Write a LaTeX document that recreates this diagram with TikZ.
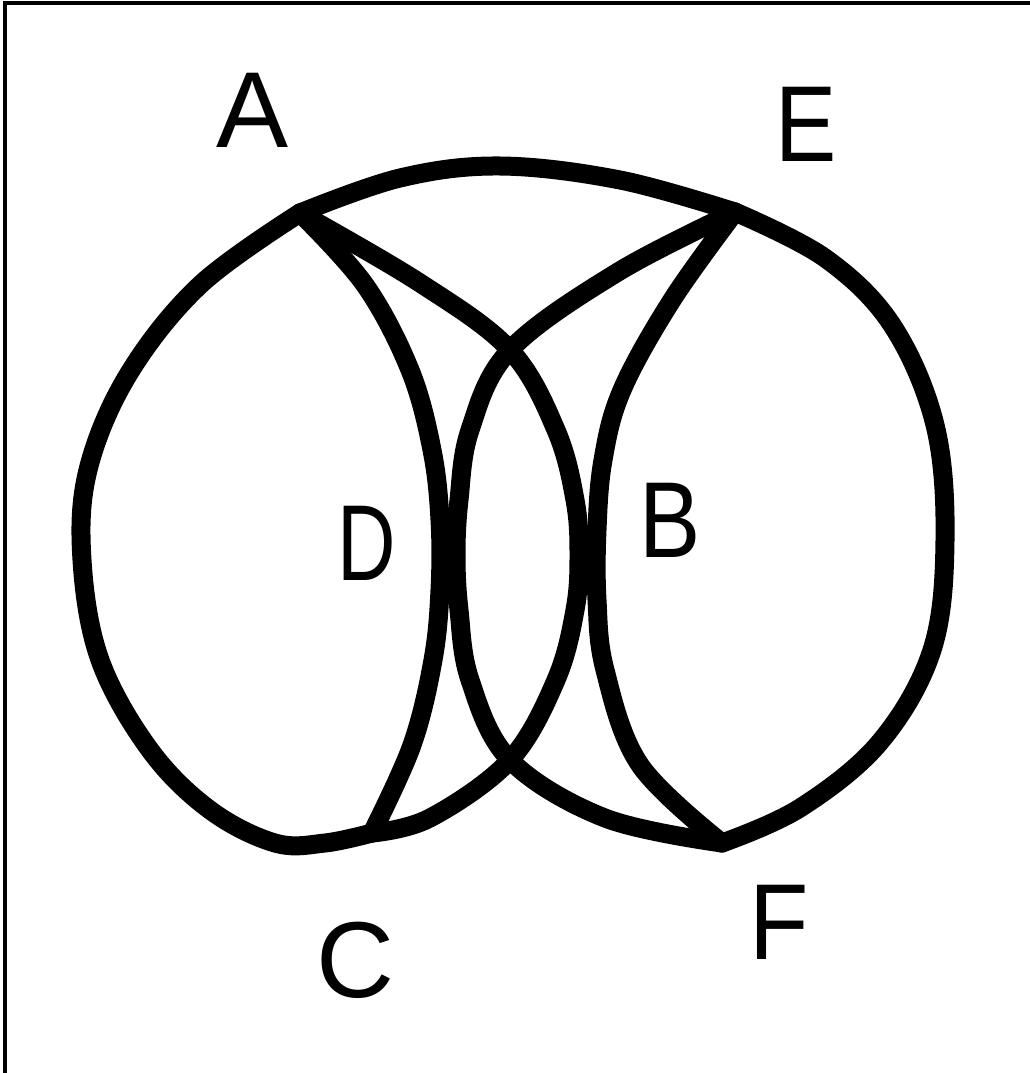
\documentclass[tikz,border=0pt]{standalone}
\usepackage{fontspec}
\setmainfont{Liberation Sans}
\begin{document}
\begin{tikzpicture}[x=1pt,y=-1pt,
  stroke/.style={line width=19pt,line cap=round,line join=round},
  curve/.style={stroke,smooth,tension=0.6},
  lbl/.style={inner sep=0pt,font=\fontsize{108}{120}\selectfont}]
\useasboundingbox (0,0) rectangle (1030,1073);
\fill[white] (0,0) rectangle (1030,1073);
\draw[line width=4pt] (5,1073) -- (5,3) -- (1030,3);
% vertices
\coordinate (A) at (300,213);
\coordinate (E) at (735,212);
\coordinate (C) at (372,833);
\coordinate (F) at (722,843);
% outer boundary
\draw[curve] plot coordinates {(A) (400,178) (500,166) (620,180) (E)};
\draw[curve] plot coordinates {(A) (200,285) (128,375) (88,470) (82,560) (100,660) (150,750) (210,810) (275,843) (325,843) (C)};
\draw[curve] plot coordinates {(E) (825,258) (892,325) (935,425) (945,540) (932,650) (880,742) (800,808) (F)};
% inner arcs
\draw[curve] plot coordinates {(A) (365,285) (410,370) (432,450) (440,520) (440,590) (433,660) (412,745) (C)};
\draw[curve] plot coordinates {(A) (420,283) (510,350) (556,430) (575,500) (579,555) (575,610) (556,680) (510,760) (430,818) (C)};
\draw[curve] plot coordinates {(E) (618,272) (510,350) (470,430) (459,500) (456,555) (459,610) (470,680) (510,760) (605,818) (F)};
\draw[curve] plot coordinates {(E) (672,300) (622,390) (603,460) (597,530) (597,600) (605,670) (640,765) (F)};
% labels
\node[lbl] (lA) at (253,110) {A};
\node[lbl,xscale=0.85] (lE) at (806,124) {E};
\node[lbl,xscale=0.75] (lD) at (367,543) {D};
\node[lbl,xscale=0.85] (lB) at (670,520) {B};
\node[lbl] (lC) at (355,960) {C};
\node[lbl,xscale=0.9] (lF) at (779,922) {F};
\end{tikzpicture}
\end{document}
